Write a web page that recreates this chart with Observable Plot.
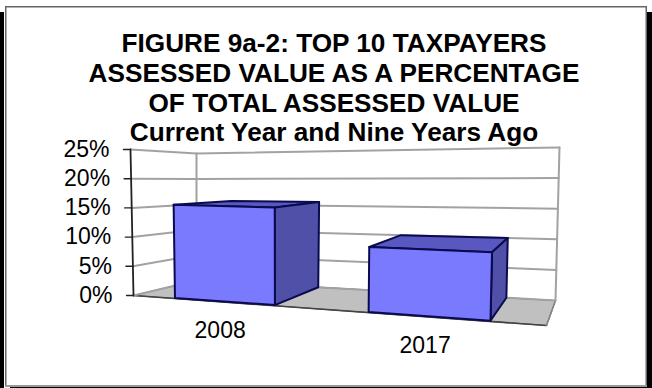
<!DOCTYPE html>
<html>
<head>
<meta charset="utf-8">
<style>html,body{margin:0;padding:0;background:#fff}svg{display:block}</style>
<script src="https://cdn.jsdelivr.net/npm/d3@7"></script>
<script src="https://cdn.jsdelivr.net/npm/@observablehq/plot@0.6"></script>
</head>
<body>
<script>
const titleLines = ["FIGURE 9a-2: TOP 10 TAXPAYERS", "ASSESSED VALUE AS A PERCENTAGE", "OF TOTAL ASSESSED VALUE", "Current Year and Nine Years Ago"];
const categories = ["2008", "2017"];
const shares = [15.7, 10];
const yTicks = [0, 5, 10, 15, 20, 25];

// 3D box of the chart: corners on screen, [width, depth, height] each 0 or 1
const corners = {
  "000": [133, 295], "001": [130, 149],
  "010": [196, 280], "011": [196, 153],
  "100": [546, 325], "101": [551, 149],
  "110": [555, 300], "111": [559, 147]
};
const lerp = (a, b, t) => a + (b - a) * t;
const perspective = t => t / (t + 1.22 * (1 - t));
function project(u, d, v) {
  const at = i => {
    const c = k => corners[k][i];
    const a = lerp(lerp(c("000"), c("100"), u), lerp(c("010"), c("110"), u), d);
    const b = lerp(lerp(c("001"), c("101"), u), lerp(c("011"), c("111"), u), d);
    return lerp(a, b, v);
  };
  return {x: at(0), y: at(1)};
}
const H = v => v / 25;
const face = pts => pts.map(p => project(perspective(p[0]), p[1], p[2]));
const poly = (pts, fill, stroke, strokeWidth) => Plot.line(face(pts), {
  x: "x", y: "y", curve: "linear-closed", fill, stroke, strokeWidth, strokeLinejoin: "round"
});
const seg = (pts, stroke, strokeWidth) => Plot.line(pts, {x: "x", y: "y", stroke, strokeWidth});

const band = d3.scaleBand().domain(categories).range([0, 1]).paddingInner(0.46).paddingOuter(0.23);
const dFront = 0.03, dBack = 1;

const GRID = "#a2a2a2", AXIS = "#222", OUTLINE = "#0a0a50";
const marks = [];

// page frame
const box = (x1, x2, y1, y2, fill) => Plot.rect([{x1, x2, y1, y2}], {x1: "x1", x2: "x2", y1: "y1", y2: "y2", fill});
marks.push(box(0, 4, 12, 388, "#000"), box(647, 652, 12, 388, "#000"), box(10, 652, 387, 388, "#000"),
           box(5, 6.5, 6, 386, "#666"), box(5, 647, 6, 7.5, "#666"),
           box(645.5, 647, 6, 386, "#666"), box(5, 647, 385, 387, "#999"));

// floor and walls
marks.push(poly([[0, 0, 0], [1, 0, 0], [1, 1, 0], [0, 1, 0]], "#c0c0c0", "#555", 1.2));
marks.push(seg([project(0, 0, 0), project(1, 0, 0)], "#444", 1.6));
marks.push(seg([project(1, 0, 0), project(1, 1, 0)], "#888", 1.4));
for (const t of yTicks) {
  marks.push(seg([project(0, 0, H(t)), project(0, 1, H(t)), project(1, 1, H(t))], GRID, 2));
}
marks.push(seg([project(0, 1, 0), project(0, 1, 1)], GRID, 2));
marks.push(seg([project(1, 1, 0), project(1, 1, 1)], GRID, 2));

// value axis
marks.push(seg([project(0, 0, 0), project(0, 0, 1)], AXIS, 1.8));
for (const t of yTicks) {
  const p = project(0, 0, H(t));
  marks.push(seg([{x: p.x - 7, y: p.y}, p], AXIS, 1.4));
}
marks.push(Plot.text(yTicks, {
  x: t => project(0, 0, H(t)).x - 21, y: t => project(0, 0, H(t)).y,
  text: t => t + "%", textAnchor: "end", fontSize: 23, fill: "#000"
}));

// bars
categories.forEach((c, i) => {
  const u0 = band(c), u1 = u0 + band.bandwidth(), h = H(shares[i]);
  marks.push(poly([[u0, dFront, h], [u1, dFront, h], [u1, dBack, h], [u0, dBack, h]], "#5858c0", OUTLINE, 2));
  marks.push(poly([[u1, dFront, 0], [u1, dBack, 0], [u1, dBack, h], [u1, dFront, h]], "#5050a8", OUTLINE, 2));
  marks.push(poly([[u0, dFront, 0], [u1, dFront, 0], [u1, dFront, h], [u0, dFront, h]], "#7a7aff", OUTLINE, 2));
});

// category labels
marks.push(Plot.text(categories, {
  x: c => project(perspective(band(c) + band.bandwidth() / 2), 0, 0).x - 2,
  y: c => project(perspective(band(c) + band.bandwidth() / 2), 0, 0).y + 29,
  text: d => d, fontSize: 23, fill: "#000"
}));

// title
marks.push(Plot.text(titleLines, {
  x: () => 333.5, y: (d, i) => [43.6, 73, 103, 132][i],
  text: d => d, fontSize: 26.2, fontWeight: "bold", fill: "#000"
}));

document.body.append(Plot.plot({
  width: 652, height: 388, margin: 0,
  x: {domain: [0, 652], range: [0, 652], axis: null},
  y: {domain: [0, 388], range: [0, 388], axis: null},
  style: {fontFamily: "'Liberation Sans', Arial, sans-serif", background: "#fff"},
  marks
}));
</script>
</body>
</html>
